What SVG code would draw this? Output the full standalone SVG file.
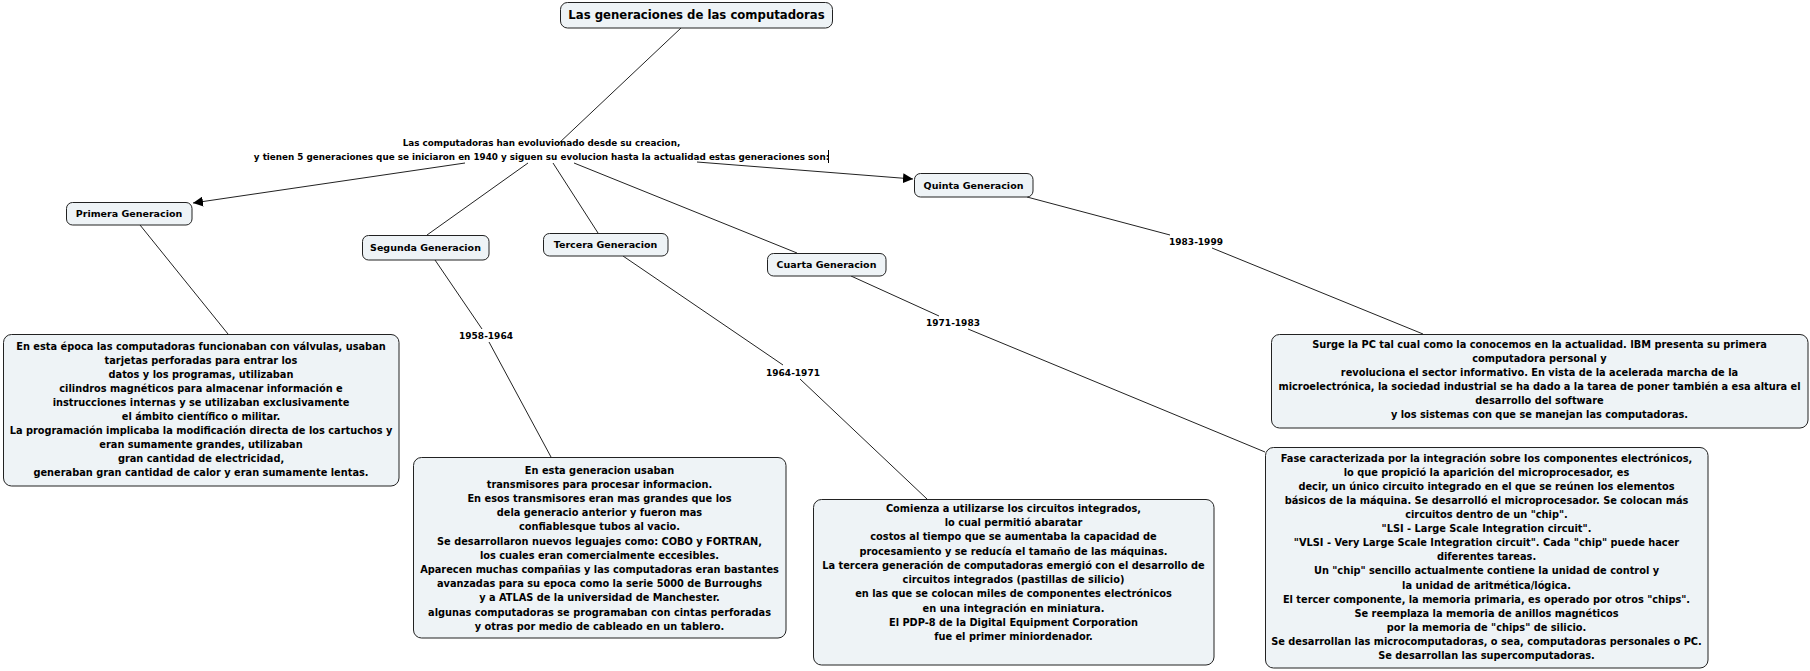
<svg xmlns="http://www.w3.org/2000/svg" width="1810" height="671" viewBox="0 0 1810 671">
<style>
text{font-family:"DejaVu Sans",Verdana,sans-serif;font-weight:bold;fill:#000;text-anchor:middle}
.box{fill:#eef3f6;stroke:#222;stroke-width:1}
.t{font-size:11.7px}
.n{font-size:9.5px}
.b{font-size:9.8px}
.c{font-size:8.8px}
.l{font-size:9px}
.con line{stroke:#222;stroke-width:1}
</style>
<defs>
<marker id="ah" viewBox="0 0 10 10" refX="10" refY="5" markerWidth="10" markerHeight="10" markerUnits="userSpaceOnUse" orient="auto">
<path d="M0,0 L10,5 L0,10 z" fill="#000"/>
</marker>
</defs>
<rect width="1810" height="671" fill="#fff"/>
<g id="connectors" class="con">
<line x1="681" y1="28" x2="558" y2="144"/>
<line x1="465" y1="163" x2="193" y2="203" marker-end="url(#ah)"/>
<line x1="528" y1="163" x2="427" y2="235"/>
<line x1="553" y1="163" x2="598" y2="233"/>
<line x1="574" y1="163" x2="797" y2="253"/>
<line x1="697" y1="162" x2="913" y2="179" marker-end="url(#ah)"/>
<line x1="140" y1="225" x2="228" y2="334"/>
<line x1="435" y1="260" x2="482" y2="329"/>
<line x1="489" y1="342" x2="551" y2="457"/>
<line x1="623" y1="256" x2="783" y2="365"/>
<line x1="800" y1="379" x2="927" y2="499"/>
<line x1="851" y1="276" x2="939" y2="316"/>
<line x1="968" y1="329" x2="1265" y2="452"/>
<line x1="1027" y1="197" x2="1170" y2="235"/>
<line x1="1212" y1="248" x2="1423" y2="334"/>
</g>
<g id="title">
<rect class="box" x="560.5" y="2.5" width="272" height="25.5" rx="7"/>
<text class="t" x="696.5" y="19.3">Las generaciones de las computadoras</text>
</g>
<g id="central">
<text class="c" x="541.5" y="146">Las computadoras han evoluvionado desde su creacion,</text>
<text class="c" x="541.5" y="160">y tienen 5 generaciones que se iniciaron en 1940 y siguen su evolucion hasta la actualidad estas generaciones son:</text>
<line x1="828.5" y1="150" x2="828.5" y2="163" stroke="#000" stroke-width="1"/>
</g>
<g id="primera">
<rect class="box" x="66.5" y="202.5" width="125.5" height="22.5" rx="6"/>
<text class="n" x="129" y="217">Primera Generacion</text>
</g>
<g id="segunda">
<rect class="box" x="362.5" y="235.5" width="126.5" height="24.5" rx="6"/>
<text class="n" x="425.5" y="251">Segunda Generacion</text>
</g>
<g id="tercera">
<rect class="box" x="543.5" y="233.5" width="124.5" height="22.5" rx="6"/>
<text class="n" x="605.5" y="248">Tercera Generacion</text>
</g>
<g id="cuarta">
<rect class="box" x="767.5" y="253.5" width="118.5" height="22.5" rx="6"/>
<text class="n" x="826.5" y="268">Cuarta Generacion</text>
</g>
<g id="quinta">
<rect class="box" x="914.5" y="173.5" width="118.5" height="23.5" rx="6"/>
<text class="n" x="973.5" y="188.5">Quinta Generacion</text>
</g>
<g id="labels">
<text class="l" x="486" y="338.5">1958-1964</text>
<text class="l" x="793" y="375.5">1964-1971</text>
<text class="l" x="953" y="325.5">1971-1983</text>
<text class="l" x="1196" y="245">1983-1999</text>
</g>
<g id="primera-desc">
<rect class="box" x="3.5" y="334.5" width="395.5" height="151.5" rx="8"/>
<text class="b" x="201" y="349.5">En esta época las computadoras funcionaban con válvulas, usaban</text>
<text class="b" x="201" y="363.5">tarjetas perforadas para entrar los</text>
<text class="b" x="201" y="377.5">datos y los programas, utilizaban</text>
<text class="b" x="201" y="391.5">cilindros magnéticos para almacenar información e</text>
<text class="b" x="201" y="405.5">instrucciones internas y se utilizaban exclusivamente</text>
<text class="b" x="201" y="419.5">el ámbito científico o militar.</text>
<text class="b" x="201" y="433.5">La programación implicaba la modificación directa de los cartuchos y</text>
<text class="b" x="201" y="447.5">eran sumamente grandes, utilizaban</text>
<text class="b" x="201" y="461.5">gran cantidad de electricidad,</text>
<text class="b" x="201" y="475.5">generaban gran cantidad de calor y eran sumamente lentas.</text>
</g>
<g id="segunda-desc">
<rect class="box" x="413.5" y="457.5" width="372.5" height="180.5" rx="8"/>
<text class="b" x="599.5" y="473.6">En esta generacion usaban</text>
<text class="b" x="599.5" y="487.8">transmisores para procesar informacion.</text>
<text class="b" x="599.5" y="502">En esos transmisores eran mas grandes que los</text>
<text class="b" x="599.5" y="516.2">dela generacio anterior y fueron mas</text>
<text class="b" x="599.5" y="530.4">confiablesque tubos al vacio.</text>
<text class="b" x="599.5" y="544.6">Se desarrollaron nuevos leguajes como: COBO y FORTRAN,</text>
<text class="b" x="599.5" y="558.8">los cuales eran comercialmente eccesibles.</text>
<text class="b" x="599.5" y="573">Aparecen muchas compañias y las computadoras eran bastantes</text>
<text class="b" x="599.5" y="587.2">avanzadas para su epoca como la serie 5000 de Burroughs</text>
<text class="b" x="599.5" y="601.4">y a ATLAS de la universidad de Manchester.</text>
<text class="b" x="599.5" y="615.6">algunas computadoras se programaban con cintas perforadas</text>
<text class="b" x="599.5" y="629.8">y otras por medio de cableado en un tablero.</text>
</g>
<g id="tercera-desc">
<rect class="box" x="813.5" y="499.5" width="400.5" height="165.5" rx="8"/>
<text class="b" x="1013.5" y="511.6">Comienza a utilizarse los circuitos integrados,</text>
<text class="b" x="1013.5" y="525.9">lo cual permitió abaratar</text>
<text class="b" x="1013.5" y="540.2">costos al tiempo que se aumentaba la capacidad de</text>
<text class="b" x="1013.5" y="554.5">procesamiento y se reducía el tamaño de las máquinas.</text>
<text class="b" x="1013.5" y="568.8">La tercera generación de computadoras emergió con el desarrollo de</text>
<text class="b" x="1013.5" y="583.1">circuitos integrados (pastillas de silicio)</text>
<text class="b" x="1013.5" y="597.4">en las que se colocan miles de componentes electrónicos</text>
<text class="b" x="1013.5" y="611.7">en una integración en miniatura.</text>
<text class="b" x="1013.5" y="626">El PDP-8 de la Digital Equipment Corporation</text>
<text class="b" x="1013.5" y="640.3">fue el primer miniordenador.</text>
</g>
<g id="cuarta-desc">
<rect class="box" x="1265.5" y="447.5" width="442.5" height="220.5" rx="8"/>
<text class="b" x="1486.5" y="461.6">Fase caracterizada por la integración sobre los componentes electrónicos,</text>
<text class="b" x="1486.5" y="475.7">lo que propició la aparición del microprocesador, es</text>
<text class="b" x="1486.5" y="489.8">decir, un único circuito integrado en el que se reúnen los elementos</text>
<text class="b" x="1486.5" y="503.9">básicos de la máquina. Se desarrolló el microprocesador. Se colocan más</text>
<text class="b" x="1486.5" y="518">circuitos dentro de un "chip".</text>
<text class="b" x="1486.5" y="532.1">"LSI - Large Scale Integration circuit".</text>
<text class="b" x="1486.5" y="546.2">"VLSI - Very Large Scale Integration circuit". Cada "chip" puede hacer</text>
<text class="b" x="1486.5" y="560.3">diferentes tareas.</text>
<text class="b" x="1486.5" y="574.4">Un "chip" sencillo actualmente contiene la unidad de control y</text>
<text class="b" x="1486.5" y="588.5">la unidad de aritmética/lógica.</text>
<text class="b" x="1486.5" y="602.6">El tercer componente, la memoria primaria, es operado por otros "chips".</text>
<text class="b" x="1486.5" y="616.7">Se reemplaza la memoria de anillos magnéticos</text>
<text class="b" x="1486.5" y="630.8">por la memoria de "chips" de silicio.</text>
<text class="b" x="1486.5" y="644.9">Se desarrollan las microcomputadoras, o sea, computadoras personales o PC.</text>
<text class="b" x="1486.5" y="659">Se desarrollan las supercomputadoras.</text>
</g>
<g id="quinta-desc">
<rect class="box" x="1271.5" y="334.5" width="536.5" height="93.5" rx="8"/>
<text class="b" x="1539.5" y="347.6">Surge la PC tal cual como la conocemos en la actualidad. IBM presenta su primera</text>
<text class="b" x="1539.5" y="361.6">computadora personal y</text>
<text class="b" x="1539.5" y="375.6">revoluciona el sector informativo. En vista de la acelerada marcha de la</text>
<text class="b" x="1539.5" y="389.6">microelectrónica, la sociedad industrial se ha dado a la tarea de poner también a esa altura el</text>
<text class="b" x="1539.5" y="403.6">desarrollo del software</text>
<text class="b" x="1539.5" y="417.6">y los sistemas con que se manejan las computadoras.</text>
</g>
</svg>
